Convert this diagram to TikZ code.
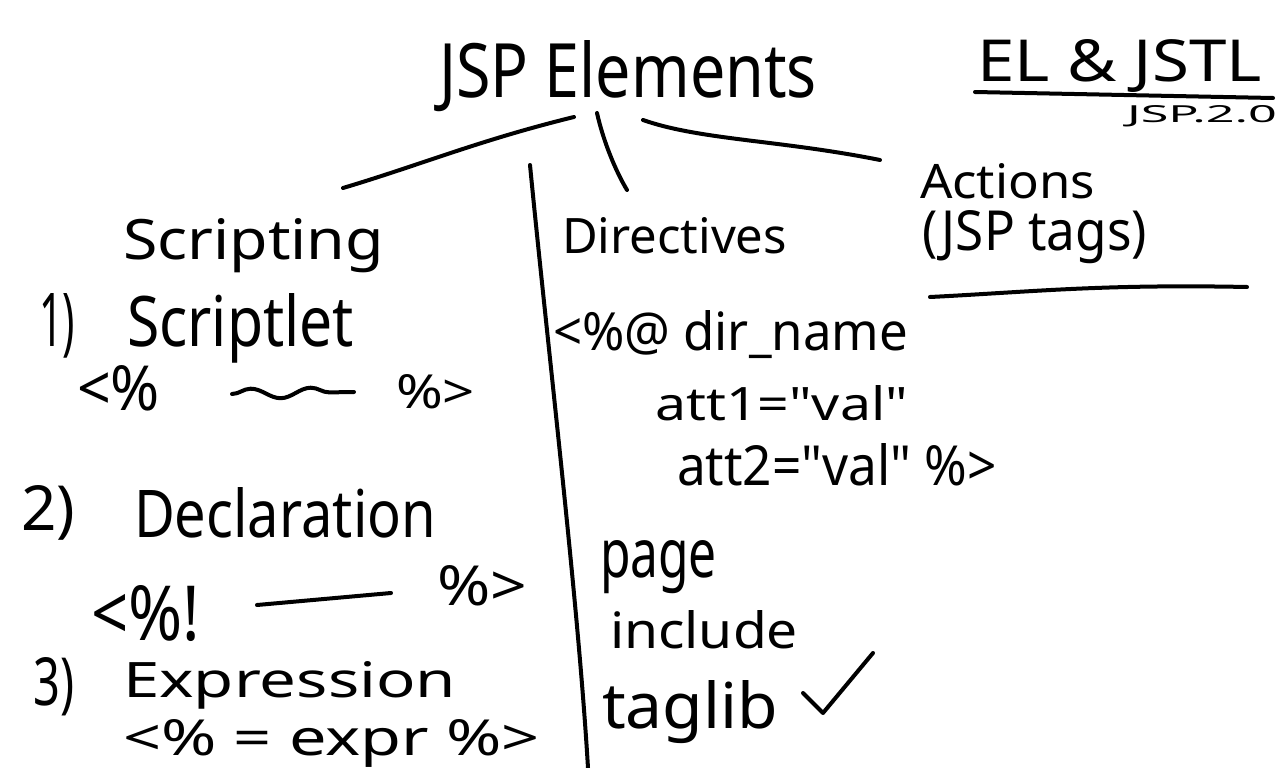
\documentclass[tikz,border=0pt]{standalone}
\usepackage{fontspec}
\newfontfamily\hand{Noto Sans}
\usepackage{graphicx}
\usetikzlibrary{decorations.pathmorphing}
\newcommand{\hw}[3]{\resizebox{#1pt}{#2pt}{#3}}
\begin{document}
\begin{tikzpicture}[x=1pt,y=-1pt,
  txt/.style={inner sep=0pt,outer sep=0pt,anchor=base west,font=\hand\fontsize{40}{48}\selectfont},
  stroke/.style={line width=4pt,line cap=round,line join=round}]
\useasboundingbox[fill=white] (0,0) rectangle (1280,768);

% title and top-right notes
\node[txt] (title) at (439,98) {\hw{378}{57}{JSP Elements}};
\node[txt] (el) at (977,82) {\hw{285}{42}{EL \& JSTL}};
\node[txt] (jsp20) at (1127,122) {\hw{150}{17}{JSP.2.0}};
\coordinate (elu1) at (975,92);
\coordinate (elu2) at (1273,98);
\draw[stroke] (elu1) -- (elu2);

% branches
\coordinate (b1a) at (574,117); \coordinate (b1b) at (343,188);
\coordinate (b2a) at (597,113); \coordinate (b2b) at (627,190);
\coordinate (b3a) at (643,120); \coordinate (b3b) at (880,160);
\draw[stroke] (b1a) .. controls (480,140) and (420,165) .. (b1b);
\draw[stroke] (b2a) .. controls (603,140) and (615,170) .. (b2b);
\draw[stroke] (b3a) .. controls (700,140) and (780,140) .. (b3b);

% divider
\coordinate (d1) at (530,165); \coordinate (d2) at (588,768);
\draw[stroke] (d1) .. controls (548,350) and (578,600) .. (d2);

% column headings
\node[txt] (scripting) at (123,259) {\hw{261}{41}{Scripting}};
\node[txt] (directives) at (562,253) {\hw{225}{36}{Directives}};
\node[txt] (actions) at (920,198) {\hw{175}{35}{Actions}};
\node[txt] (tags) at (922,250) {\hw{225}{40}{(JSP tags)}};
\coordinate (au1) at (930,297); \coordinate (au2) at (1247,287);
\draw[stroke] (au1) .. controls (1030,292) and (1100,284) .. (au2);

% scripting items
\node[txt] (n1) at (39,346) {\hw{36}{53}{1)}};
\node[txt] (scriptlet) at (127,346) {\hw{227}{53}{Scriptlet}};
\node[txt] (s1o) at (77,410) {\hw{83}{45}{<\%}};
\node[txt] (s1c) at (396,408) {\hw{79}{34}{\%>}};
\coordinate (w1) at (232,394); \coordinate (w2) at (354,392);
\draw[stroke,decorate,decoration={snake,amplitude=5pt,segment length=60pt}] (w1) -- (w2);

\node[txt] (n2) at (21,530) {\hw{54}{45}{2)}};
\node[txt] (decl) at (134,537) {\hw{302}{50}{Declaration}};
\node[txt] (s2o) at (91,640) {\hw{109}{55}{<\%!}};
\node[txt] (s2c) at (437,605) {\hw{90}{40}{\%>}};
\coordinate (l1) at (257,605); \coordinate (l2) at (391,593);
\draw[stroke] (l1) -- (l2);

\node[txt] (n3) at (34,705) {\hw{41}{48}{3)}};
\node[txt] (expr) at (123,697) {\hw{333}{36}{Expression}};
\node[txt] (s3) at (123,755) {\hw{417}{36}{<\% = expr \%>}};

% directives items
\node[txt] (dirname) at (553,350) {\hw{355}{40}{<\%@ dir\_name}};
\node[txt] (att1) at (655,420) {\hw{253}{35}{att1="val"}};
\node[txt] (att2) at (677,485) {\hw{320}{42}{att2="val" \%>}};
\node[txt] (page) at (600,577) {\hw{117}{37}{page}};
\node[txt] (include) at (610,648) {\hw{188}{38}{include}};
\node[txt] (taglib) at (602,728) {\hw{176}{48}{taglib}};
\coordinate (c1) at (803,693); \coordinate (c2) at (823,713); \coordinate (c3) at (873,653);
\draw[stroke] (c1) -- (c2) -- (c3);
\end{tikzpicture}
\end{document}
